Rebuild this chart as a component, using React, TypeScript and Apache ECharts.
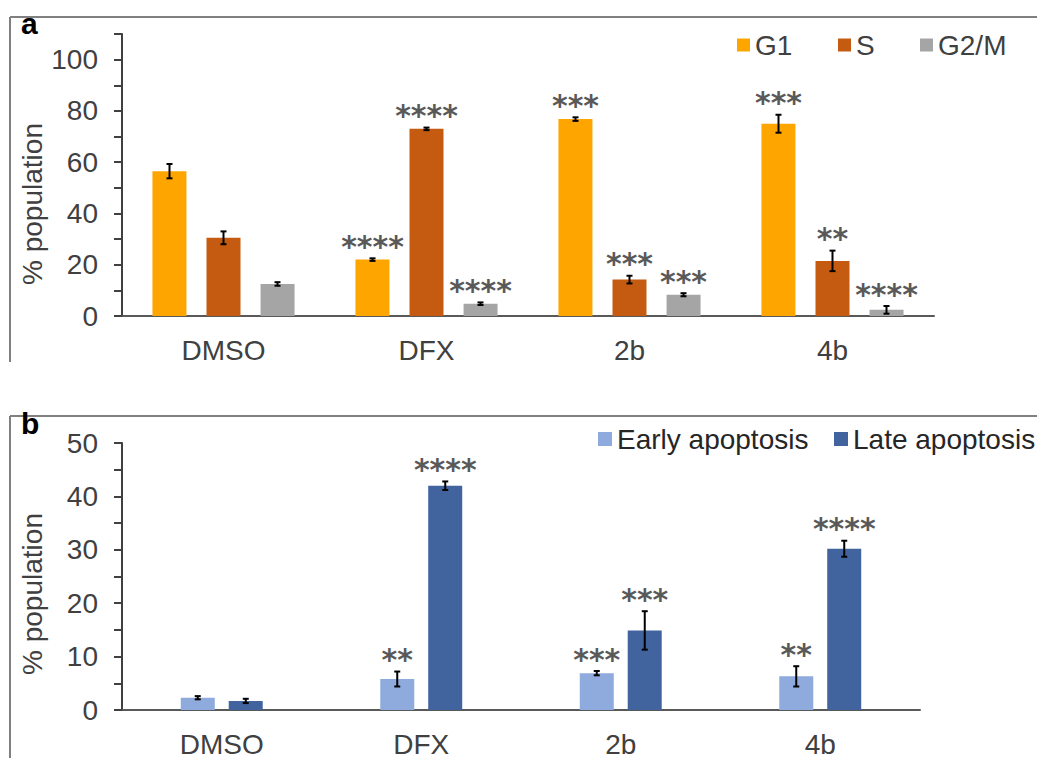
import React, { useEffect, useRef } from "react";
import * as echarts from "echarts";

const categories = ["DMSO", "DFX", "2b", "4b"];

// Panel a: cell cycle
const g1 = [56.5, 22, 76.8, 75];
const g1Err = [2.8, 0.5, 0.7, 3.5];
const g1Sig = ["", "****", "***", "***"];
const sPhase = [30.5, 73, 14.2, 21.5];
const sErr = [2.5, 0.5, 1.5, 4];
const sSig = ["", "****", "***", "**"];
const g2m = [12.5, 4.8, 8.3, 2.4];
const g2mErr = [0.7, 0.5, 0.6, 1.5];
const g2mSig = ["", "****", "***", "****"];

// Panel b: apoptosis
const early = [2.3, 5.8, 6.9, 6.3];
const earlyErr = [0.3, 1.4, 0.4, 1.9];
const earlySig = ["", "**", "***", "**"];
const late = [1.7, 42, 14.9, 30.2];
const lateErr = [0.4, 0.8, 3.6, 1.5];
const lateSig = ["", "****", "***", "****"];

const FONT = "'Liberation Sans', Arial, sans-serif";
const AXIS_TEXT = "#404040";
const SIG_COLOR = "#595959";

function errSeries(
  vals: number[],
  errs: number[],
  sigs: string[],
  offset: number,
  axisIndex: number
) {
  return {
    type: "custom",
    xAxisIndex: axisIndex,
    yAxisIndex: axisIndex,
    silent: true,
    z: 10,
    data: vals.map((v, i) => [i, v, errs[i]]),
    renderItem: (params: any, api: any) => {
      const i = api.value(0);
      const v = api.value(1);
      const e = api.value(2);
      const top = api.coord([i, v + e]);
      const bot = api.coord([i, v - e]);
      const x = top[0] + offset;
      const children: any[] = [
        { type: "line", shape: { x1: x, y1: top[1], x2: x, y2: bot[1] }, style: { stroke: "#000", lineWidth: 2 } },
        { type: "line", shape: { x1: x - 3, y1: top[1], x2: x + 3, y2: top[1] }, style: { stroke: "#000", lineWidth: 2 } },
        { type: "line", shape: { x1: x - 3, y1: bot[1], x2: x + 3, y2: bot[1] }, style: { stroke: "#000", lineWidth: 2 } },
      ];
      const sig = sigs[params.dataIndex];
      if (sig) {
        children.push({
          type: "text",
          x: x,
          y: top[1] - 12,
          style: {
            text: sig,
            fill: SIG_COLOR,
            font: "bold 30px 'DejaVu Sans', sans-serif",
            align: "center",
            verticalAlign: "middle",
          },
        });
      }
      return { type: "group", children };
    },
  };
}

function yAxisCfg(gridIndex: number, max: number, interval: number, labelStep: number) {
  return {
    type: "value",
    gridIndex,
    min: 0,
    max,
    interval,
    axisLine: { show: true, lineStyle: { color: "#404040", width: 2 } },
    axisTick: { show: true, inside: false, length: 8, lineStyle: { color: "#404040", width: 2 } },
    splitLine: { show: false },
    axisLabel: {
      margin: 24,
      color: AXIS_TEXT,
      fontSize: 28,
      fontFamily: FONT,
      formatter: (v: number) => (v % labelStep === 0 ? String(v) : ""),
    },
  };
}

function xAxisCfg(gridIndex: number) {
  return {
    type: "category",
    gridIndex,
    data: categories,
    axisLine: { show: true, lineStyle: { color: "#595959", width: 2 } },
    axisTick: { show: false },
    axisLabel: { margin: 20, color: AXIS_TEXT, fontSize: 28, fontFamily: FONT },
  };
}

function legendItem(name: string, left: number, top: number, size: number, color: string) {
  return {
    data: [name],
    left,
    top,
    icon: "rect",
    itemWidth: size,
    itemHeight: size,
    textStyle: { color, fontSize: 28, fontFamily: FONT, lineHeight: 30 },
  };
}

export default function App() {
  const ref = useRef<HTMLDivElement>(null);
  useEffect(() => {
    if (!ref.current) return;
    const chart = echarts.init(ref.current, null, { renderer: "svg" });
    const option: any = {
      animation: false,
      backgroundColor: "#ffffff",
      grid: [
        { left: 122, top: 34, width: 812, height: 282 },
        { left: 122, top: 443, width: 798, height: 270 },
      ],
      legend: [
        legendItem("G1", 732, 25, 13, AXIS_TEXT),
        legendItem("S", 833, 25, 13, AXIS_TEXT),
        legendItem("G2/M", 915, 25, 13, AXIS_TEXT),
        legendItem("Early apoptosis", 593, 419, 14, "#262626"),
        legendItem("Late apoptosis", 829, 419, 14, "#262626"),
      ],
      xAxis: [xAxisCfg(0), xAxisCfg(1)],
      yAxis: [yAxisCfg(0, 110, 10, 20), yAxisCfg(1, 50, 5, 10)],
      series: [
        { name: "G1", type: "bar", xAxisIndex: 0, yAxisIndex: 0, data: g1, barWidth: 34, barGap: "59%", itemStyle: { color: "#FFA500" } },
        { name: "S", type: "bar", xAxisIndex: 0, yAxisIndex: 0, data: sPhase, barWidth: 34, barGap: "59%", itemStyle: { color: "#C55A11" } },
        { name: "G2/M", type: "bar", xAxisIndex: 0, yAxisIndex: 0, data: g2m, barWidth: 34, barGap: "59%", itemStyle: { color: "#A5A5A5" } },
        { name: "Early apoptosis", type: "bar", xAxisIndex: 1, yAxisIndex: 1, data: early, barWidth: 34, barGap: "41%", itemStyle: { color: "#8FAADC" } },
        { name: "Late apoptosis", type: "bar", xAxisIndex: 1, yAxisIndex: 1, data: late, barWidth: 34, barGap: "41%", itemStyle: { color: "#41649F" } },
        errSeries(g1, g1Err, g1Sig, -54, 0),
        errSeries(sPhase, sErr, sSig, 0, 0),
        errSeries(g2m, g2mErr, g2mSig, 54, 0),
        errSeries(early, earlyErr, earlySig, -24, 1),
        errSeries(late, lateErr, lateSig, 24, 1),
      ],
      graphic: [
        { type: "line", shape: { x1: 10, y1: 17, x2: 1037, y2: 17 }, style: { stroke: "#808080", lineWidth: 2 } },
        { type: "line", shape: { x1: 10, y1: 17, x2: 10, y2: 362 }, style: { stroke: "#808080", lineWidth: 2 } },
        { type: "line", shape: { x1: 10, y1: 416, x2: 1037, y2: 416 }, style: { stroke: "#808080", lineWidth: 2 } },
        { type: "line", shape: { x1: 10, y1: 416, x2: 10, y2: 758 }, style: { stroke: "#808080", lineWidth: 2 } },
        { type: "text", x: 21, y: 23, style: { text: "a", font: `bold 30px ${FONT}`, fill: "#000", align: "left", verticalAlign: "middle" } },
        { type: "text", x: 21, y: 423, style: { text: "b", font: `bold 30px ${FONT}`, fill: "#000", align: "left", verticalAlign: "middle" } },
        { type: "text", x: 32, y: 204, rotation: Math.PI / 2, style: { text: "% population", font: `28px ${FONT}`, fill: AXIS_TEXT, align: "center", verticalAlign: "middle" } },
        { type: "text", x: 32, y: 594, rotation: Math.PI / 2, style: { text: "% population", font: `28px ${FONT}`, fill: AXIS_TEXT, align: "center", verticalAlign: "middle" } },
      ],
    };
    chart.setOption(option);
    return () => chart.dispose();
  }, []);
  return (
    <div
      ref={ref}
      style={{ position: "fixed", left: 0, top: 0, width: 1037, height: 758, background: "#fff" }}
    />
  );
}
